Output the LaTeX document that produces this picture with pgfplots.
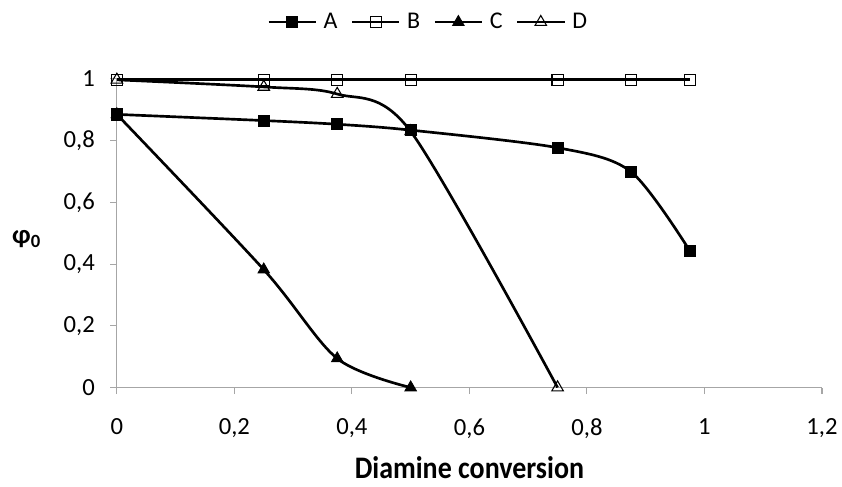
\documentclass[border=0pt]{standalone}
\usepackage{pgfplots}
\pgfplotsset{compat=1.18}
\usepackage{fontspec}
\setmainfont{Carlito}
\begin{document}
\begin{tikzpicture}
\begin{axis}[
  name=ax,
  scale only axis,
  width=529.5pt, height=231.75pt,
  xmin=0, xmax=1.2, ymin=0, ymax=1,
  xtick={0,0.2,...,1.2}, ytick={0,0.2,...,1},
  axis x line*=bottom, axis y line*=left,
  axis line style={gray!70, line width=0.8pt, -},
  tick style={gray!70, line width=0.8pt},
  tick align=outside, major tick length=5pt,
  /pgf/number format/use comma,
  /pgf/number format/assume math mode=true,
  tick label style={font=\fontsize{18.5}{21}\selectfont},
  xticklabel style={yshift=-15pt},
  yticklabel style={xshift=-8pt},
  xlabel={\scalebox{1}[1.12]{\textbf{Diamine conversion}}},
  xlabel style={font=\fontsize{21}{24}\selectfont, at={(axis description cs:0.5,-0.26)}, anchor=center},
  ylabel={\textbf{φ\textsubscript{0}}},
  ylabel style={font=\fontsize{20}{24}\selectfont, rotate=-90, at={(axis description cs:-0.128,0.48)}, anchor=center},
  legend columns=4,
  legend style={draw=none, at={(axis description cs:0.442,1.184)}, anchor=center,
    font=\fontsize{18}{21}\selectfont, column sep=3pt,
    /tikz/every even column/.append style={column sep=8pt}},
  legend image code/.code={\draw[mark repeat=2,mark phase=2] plot coordinates {(0cm,0cm) (0.62cm,0cm) (1.24cm,0cm)};},
  every axis plot/.append style={black, line width=2pt, smooth, tension=0.5},
]
\addplot[mark=square*, mark size=4.2pt, mark options={line width=0.6pt, solid}] coordinates {
 (0,0.885) (0.25,0.865) (0.375,0.853) (0.5,0.834) (0.75,0.777) (0.875,0.699) (0.975,0.443)};
\addlegendentry{A}
\addplot[mark=square, mark size=4.2pt, mark options={line width=0.8pt, fill=white, solid}] coordinates {
 (0,0.997) (0.25,0.997) (0.375,0.997) (0.5,0.997) (0.75,0.997) (0.875,0.997) (0.975,0.997)};
\addlegendentry{B}
\addplot[mark=triangle*, mark size=5pt, mark options={line width=0.6pt, solid}] coordinates {
 (0,0.885) (0.25,0.382) (0.375,0.094) (0.5,0)};
\addlegendentry{C}
\addplot[mark=triangle, mark size=5pt, mark options={line width=0.8pt, fill=white, solid}] coordinates {
 (0,0.997) (0.25,0.974) (0.375,0.951) (0.5,0.83) (0.75,0)};
\addlegendentry{D}
\end{axis}
\path (ax.south west) ++(-87.75pt,-74.25pt);
\path (ax.north east) ++(14.25pt,59.25pt);
\end{tikzpicture}
\end{document}
